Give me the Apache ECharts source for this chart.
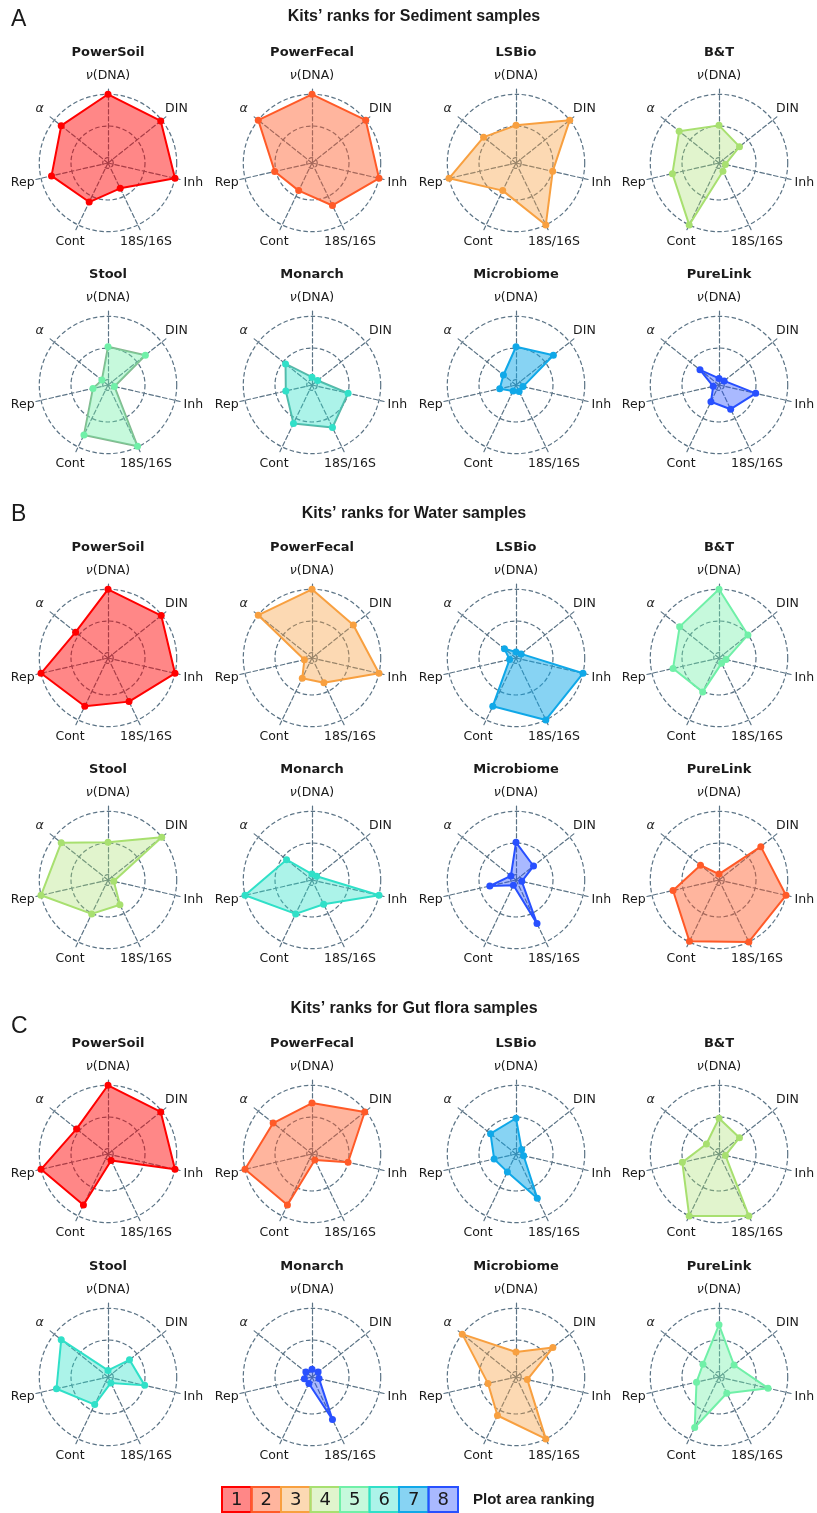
<!DOCTYPE html>
<html>
<head>
<meta charset="utf-8">
<script src="https://cdn.jsdelivr.net/npm/echarts@6/dist/echarts.min.js"></script>
<style>
  html, body { margin: 0; padding: 0; background: #fff; }
  #main { width: 817px; height: 1513px; }
</style>
</head>
<body>
<div id="main"></div>
<script>
// axis names, clockwise from the top (as in the figure)
var axisNames = ['ν(DNA)', 'DIN', 'Inh', '18S/16S', 'Cont', 'Rep', 'α'];
var kits = ['PowerSoil', 'PowerFecal', 'LSBio', 'B&T', 'Stool', 'Monarch', 'Microbiome', 'PureLink'];
var sectionTitles = ['Kits’ ranks for Sediment samples', 'Kits’ ranks for Water samples', 'Kits’ ranks for Gut flora samples'];
var sectionLetters = ['A', 'B', 'C'];
var legendLabels = ['1', '2', '3', '4', '5', '6', '7', '8'];

// plot area rank of each kit (same order as kits)
var sedimentRanks = [1, 2, 3, 4, 5, 6, 7, 8];
var waterRanks = [1, 3, 7, 5, 4, 6, 8, 2];
var gutRanks = [1, 2, 7, 4, 6, 8, 3, 5];

// scores 0..1, order as axisNames
var sedimentValues = [
  [1.00, 0.98, 1.00, 0.36, 0.60, 0.83, 0.86], // PowerSoil
  [1.00, 1.00, 1.00, 0.66, 0.40, 0.52, 1.00], // PowerFecal
  [0.51, 1.00, 0.51, 1.00, 0.40, 1.00, 0.57], // LSBio
  [0.51, 0.33, 0.02, 0.06, 1.00, 0.67, 0.72], // B&T
  [0.52, 0.67, 0.02, 0.99, 0.79, 0.16, 0.04], // Stool
  [0.04, 0.03, 0.50, 0.66, 0.59, 0.34, 0.45], // Monarch
  [0.52, 0.67, 0.03, 0.03, 0.02, 0.18, 0.17], // Microbiome
  [0.02, 0.02, 0.51, 0.34, 0.21, 0.01, 0.30]  // PureLink
];
var waterValues = [
  [1.00, 0.99, 1.00, 0.68, 0.76, 1.00, 0.57],
  [1.00, 0.75, 1.00, 0.35, 0.27, 0.04, 1.00],
  [0.01, 0.02, 1.00, 1.00, 0.76, 0.02, 0.15],
  [1.00, 0.50, 0.03, 0.01, 0.51, 0.66, 0.71],
  [0.51, 1.00, 0.01, 0.35, 0.51, 1.00, 0.86],
  [0.01, 0.01, 1.00, 0.34, 0.51, 1.00, 0.43],
  [0.51, 0.27, 0.01, 0.68, 0.01, 0.34, 0.02],
  [0.01, 0.76, 1.00, 1.00, 0.99, 0.66, 0.29]
];
var gutValues = [
  [1.00, 0.98, 1.00, 0.03, 0.81, 1.00, 0.55],
  [0.72, 0.98, 0.50, 0.02, 0.81, 1.00, 0.70],
  [0.48, 0.03, 0.04, 0.69, 0.23, 0.27, 0.43],
  [0.48, 0.33, 0.02, 1.00, 1.00, 0.51, 0.17],
  [0.02, 0.35, 0.51, 0.02, 0.40, 0.75, 0.86],
  [0.04, 0.04, 0.03, 0.66, 0.03, 0.04, 0.04],
  [0.31, 0.66, 0.10, 1.00, 0.59, 0.37, 1.00],
  [0.74, 0.22, 0.71, 0.20, 0.80, 0.28, 0.24]
];

var sections = [
  {ranks: sedimentRanks, values: sedimentValues},
  {ranks: waterRanks, values: waterValues},
  {ranks: gutRanks, values: gutValues}
];

// rank colours
var rankEdge = ['#ff0000', '#ff5a28', '#f8a040', '#a8e070', '#70f0a8', '#30e0c8', '#10a8e8', '#2850ff'];
var rankAlpha = [0.47, 0.45, 0.4, 0.35, 0.4, 0.4, 0.5, 0.4];
var gridColor = '#5b7385';
var textColor = '#1a1a1a';

var colX = [108, 312, 516, 719];
var rowY = [163, 385, 658, 880, 1154, 1377];
var titleY = [17, 514, 1009];
var letterY = [20, 515, 1027];
var R = 74;

function hexToRgba(hex, a) {
  var n = parseInt(hex.slice(1), 16);
  return 'rgba(' + (n >> 16) + ',' + ((n >> 8) & 255) + ',' + (n & 255) + ',' + a + ')';
}

// echarts radar goes counter-clockwise, figure goes clockwise
var order = [0, 6, 5, 4, 3, 2, 1];

// only rings at 0, 0.5, 1 (scale -1..13, values *12)
var ringColors = [];
for (var i = 0; i < 15; i++) {
  ringColors.push((i === 1 || i === 7 || i === 13) ? gridColor : 'rgba(0,0,0,0)');
}

var radars = [];
var series = [];
var graphics = [];

sections.forEach(function (sec, s) {
  graphics.push({
    type: 'text', x: 414, y: titleY[s],
    style: {text: sectionTitles[s], font: 'bold 16px "Liberation Sans", Arial', fill: textColor,
      align: 'center', verticalAlign: 'middle', textAlign: 'center', textVerticalAlign: 'middle'}
  });
  graphics.push({
    type: 'text', x: 11, y: letterY[s],
    style: {text: sectionLetters[s], font: '23px "Liberation Sans", Arial', fill: textColor,
      align: 'left', verticalAlign: 'middle', textAlign: 'left', textVerticalAlign: 'middle'}
  });
  kits.forEach(function (kit, k) {
    var cx = colX[k % 4];
    var cy = rowY[s * 2 + Math.floor(k / 4)];
    var rank = sec.ranks[k];
    var edge = rankEdge[rank - 1];
    var lineColor = edge;
    if (s === 0 && k === 4) lineColor = '#84b890';
    if (s === 0 && k === 5) lineColor = '#5ab4a6';
    radars.push({
      center: [cx, cy],
      radius: R,
      startAngle: 90,
      shape: 'circle',
      splitNumber: 14,
      indicator: order.map(function (j) { return {name: axisNames[j], min: -1, max: 13}; }),
      axisName: {show: false},
      splitArea: {show: false},
      splitLine: {lineStyle: {color: ringColors, width: 1.2, type: [4.5, 2.5]}},
      axisLine: {lineStyle: {color: gridColor, width: 1.2, type: [4.5, 2.5]}},
      axisTick: {show: false},
      axisLabel: {show: false}
    });
    series.push({
      type: 'radar',
      radarIndex: radars.length - 1,
      symbol: 'circle',
      symbolSize: 7,
      lineStyle: {color: lineColor, width: 2},
      itemStyle: {color: edge},
      areaStyle: {color: hexToRgba(edge, rankAlpha[rank - 1]), opacity: 1},
      data: [{value: order.map(function (j) { return sec.values[k][j] * 12; }), name: kit}]
    });
    // kit title
    graphics.push({
      type: 'text', x: cx, y: cy - 110,
      style: {text: kit, font: 'bold 13px "DejaVu Sans"', fill: textColor,
        align: 'center', verticalAlign: 'middle', textAlign: 'center', textVerticalAlign: 'middle'}
    });
    // axis names
    axisNames.forEach(function (nm, a) {
      var ang = (90 - a * 360 / 7) * Math.PI / 180;
      var txt = nm;
      if (nm === 'ν(DNA)') txt = '{i|ν}(DNA)';
      if (nm === 'α') txt = '{i|α}';
      graphics.push({
        type: 'text', x: cx + 87.5 * Math.cos(ang), y: cy - 87.5 * Math.sin(ang),
        style: {text: txt, font: '12.5px "DejaVu Sans"', fill: textColor,
          align: 'center', verticalAlign: 'middle', textAlign: 'center', textVerticalAlign: 'middle',
          rich: {i: {font: 'italic 12.5px "DejaVu Sans"', fill: textColor}}}
      });
    });
  });
});

// legend of ranks
var boxX = 222, boxW = 29.5, boxY = 1487, boxH = 25;
legendLabels.forEach(function (lb, r) {
  graphics.push({
    type: 'rect',
    shape: {x: boxX + r * boxW, y: boxY, width: boxW, height: boxH},
    style: {fill: hexToRgba(rankEdge[r], rankAlpha[r]), stroke: rankEdge[r], lineWidth: 2}
  });
  graphics.push({
    type: 'text', x: boxX + r * boxW + boxW / 2, y: boxY + boxH / 2 + 1,
    style: {text: lb, font: '18px "DejaVu Sans"', fill: textColor,
      align: 'center', verticalAlign: 'middle', textAlign: 'center', textVerticalAlign: 'middle'}
  });
});
graphics.push({
  type: 'text', x: 473, y: 1500,
  style: {text: 'Plot area ranking', font: 'bold 15px "Liberation Sans", Arial', fill: textColor,
    align: 'left', verticalAlign: 'middle', textAlign: 'left', textVerticalAlign: 'middle'}
});

var chart = echarts.init(document.getElementById('main'), null, {renderer: 'canvas'});
chart.setOption({
  backgroundColor: '#ffffff',
  animation: false,
  radar: radars,
  series: series,
  graphic: {elements: graphics}
});
</script>
</body>
</html>
